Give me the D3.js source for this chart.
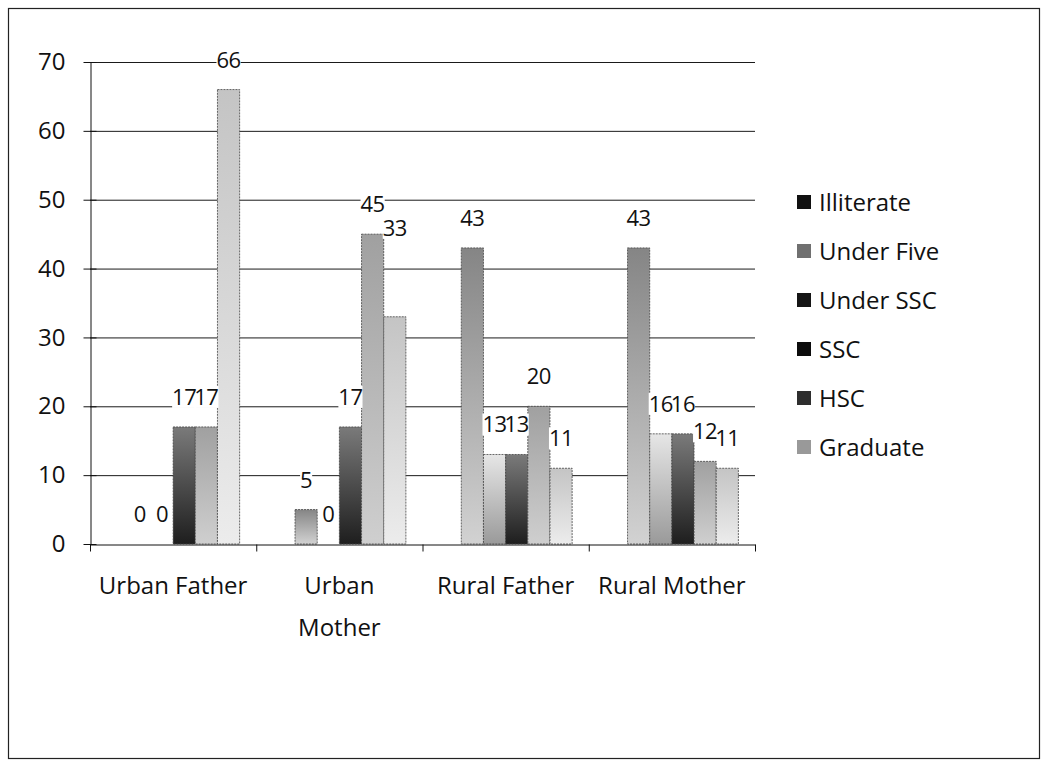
<!DOCTYPE html>
<html>
<head>
<meta charset="utf-8">
<script src="https://cdn.jsdelivr.net/npm/d3@7"></script>
<style>
	body { margin: 0; background: #fff; }
	text { font-family: "Open Sans", sans-serif; fill: #111; }
</style>
</head>
<body>
<div id="chart"></div>
<script>
var categories = ["Urban Father", "Urban Mother", "Rural Father", "Rural Mother"];
var seriesNames = ["Illiterate", "Under Five", "Under SSC", "SSC", "HSC", "Graduate"];

// null = no value in the sheet (no bar, no label)
var illiterate = [null, null, null, null];
var underFive  = [0, 5, 43, 43];
var underSSC   = [0, 0, 13, 16];
var ssc        = [17, 17, 13, 16];
var hsc        = [17, 45, 20, 12];
var graduate   = [66, 33, 11, 11];

var yTicks = [0, 10, 20, 30, 40, 50, 60, 70];

var values = [illiterate, underFive, underSSC, ssc, hsc, graduate];

var width = 1046;
var height = 762;
var plot = {left: 90, right: 755, top: 62, bottom: 544};
var fontSize = "24px";

/* gradient stops per series: top colour, bottom colour */
var fills = [
	["#3a3a3a", "#0a0a0a"],
	["#858585", "#d2d2d2"],
	["#e6e6e6", "#9a9a9a"],
	["#7a7a7a", "#1e1e1e"],
	["#a0a0a0", "#cfcfcf"],
	["#c4c4c4", "#ececec"]
];
var legendColor = ["#111", "#707070", "#151515", "#0c0c0c", "#2e2e2e", "#999"];

/* Scale */
var x0 = d3.scaleBand()
	.domain(categories)
	.range([plot.left, plot.right]);

var barW = x0.bandwidth() / 7.5;

var yScale = d3.scaleLinear()
	.domain([0, 70])
	.range([plot.bottom, plot.top]);

var svg = d3.select("#chart").append("svg")
	.attr("width", width)
	.attr("height", height);

var defs = svg.append("defs");
fills.forEach(function(f, i) {
	var g = defs.append("linearGradient")
		.attr("id", "g" + i)
		.attr("x1", 0).attr("y1", 0).attr("x2", 0).attr("y2", 1);
	g.append("stop").attr("offset", "0%").attr("stop-color", f[0]);
	g.append("stop").attr("offset", "100%").attr("stop-color", f[1]);
});

/* outer border */
svg.append("rect")
	.attr("x", 8.5).attr("y", 8.5)
	.attr("width", 1031).attr("height", 750)
	.attr("fill", "none")
	.attr("stroke", "#222")
	.attr("stroke-width", 1.2);

/* gridlines */
svg.append("g")
	.selectAll("line")
	.data(yTicks.filter(d => d > 0)).enter()
	.append("line")
	.attr("x1", plot.left).attr("x2", plot.right)
	.attr("y1", d => yScale(d) + 0.5).attr("y2", d => yScale(d) + 0.5)
	.attr("stroke", "#1a1a1a")
	.attr("stroke-width", 1);

/* bars */
var points = values.map((d, i) => d.map((v, j) => ({s: i, c: categories[j], v: v})).filter(e => e.v !== null));
var barX = d => x0(d.c) + barW * 0.75 + d.s * barW;

var groups = svg.append("g")
	.selectAll("g")
	.data(points).enter()
	.append("g")
	.attr("fill", (d, i) => "url(#g" + i + ")");

groups.selectAll("rect")
	.data(d => d).enter()
	.append("rect")
	.attr("x", barX)
	.attr("y", d => yScale(d.v))
	.attr("width", barW)
	.attr("height", d => plot.bottom - yScale(d.v))
	.attr("stroke", "#444")
	.attr("stroke-width", 0.8)
	.attr("stroke-dasharray", "2,1");

// the Urban Mother / Graduate label was dragged up in the sheet
var labelNudge = d => (d.s === 5 && d.c === "Urban Mother") ? -59 : 0;

/* data labels, white box behind like the sheet */
var labelBg = svg.append("g");
var labelText = svg.append("g")
	.selectAll("text")
	.data(points.flat()).enter()
	.append("text")
	.attr("x", d => barX(d) + barW / 2)
	.attr("y", d => yScale(d.v) - 22 + labelNudge(d))
	.attr("text-anchor", "middle")
	.style("font-size", "22px")
	.style("letter-spacing", "-0.5px")
	.text(d => d.v);

labelText.each(function() {
	var b = this.getBBox();
	labelBg.append("rect")
		.attr("x", b.x).attr("y", b.y + 5)
		.attr("width", b.width).attr("height", b.height - 8)
		.attr("fill", "#fff");
});

/* Add Axis into SVG */
var yAxis = d3.axisLeft(yScale)
	.tickValues(yTicks)
	.tickSize(0)
	.tickPadding(25);

var yg = svg.append("g")
	.attr("transform", "translate(" + (plot.left + 0.5) + ",0)")
	.call(yAxis);
yg.select(".domain").attr("stroke", "#111");
yg.selectAll(".tick text").style("font-size", fontSize).style("font-family", "Open Sans").attr("fill", "#111");
yg.selectAll(".tick")
	.append("line")
	.attr("x1", -7).attr("x2", 6)
	.attr("stroke", "#111");

var xAxis = d3.axisBottom(x0).tickSize(0).tickFormat("");
var xg = svg.append("g")
	.attr("transform", "translate(0," + (plot.bottom + 0.5) + ")")
	.call(xAxis);
xg.select(".domain").attr("stroke", "#111");

/* category boundary ticks */
xg.selectAll(".bound")
	.data(categories.concat(["end"])).enter()
	.append("line")
	.attr("x1", (d, i) => plot.left + i * x0.bandwidth() + 0.5)
	.attr("x2", (d, i) => plot.left + i * x0.bandwidth() + 0.5)
	.attr("y1", 0).attr("y2", 7)
	.attr("stroke", "#111");

/* category labels, wrapped like Excel */
var labelLines = {"Urban Father": ["Urban Father"], "Urban Mother": ["Urban", "Mother"],
	"Rural Father": ["Rural Father"], "Rural Mother": ["Rural Mother"]};

categories.forEach(function(c) {
	var t = svg.append("text")
		.attr("x", x0(c) + x0.bandwidth() / 2)
		.attr("y", 594)
		.attr("text-anchor", "middle")
		.style("font-size", fontSize);
	labelLines[c].forEach(function(l, k) {
		t.append("tspan")
			.attr("x", x0(c) + x0.bandwidth() / 2)
			.attr("dy", k === 0 ? 0 : 42)
			.text(l);
	});
});

/* legend */
var legend = svg.append("g")
	.selectAll("g")
	.data(seriesNames).enter()
	.append("g")
	.attr("transform", (d, i) => "translate(797," + (202 + i * 49) + ")");

legend.append("rect")
	.attr("x", 0).attr("y", -7)
	.attr("width", 14).attr("height", 14)
	.attr("fill", (d, i) => legendColor[i]);

legend.append("text")
	.attr("x", 22)
	.attr("y", 8.5)
	.style("font-size", fontSize)
	.text(d => d);
</script>
</body>
</html>
